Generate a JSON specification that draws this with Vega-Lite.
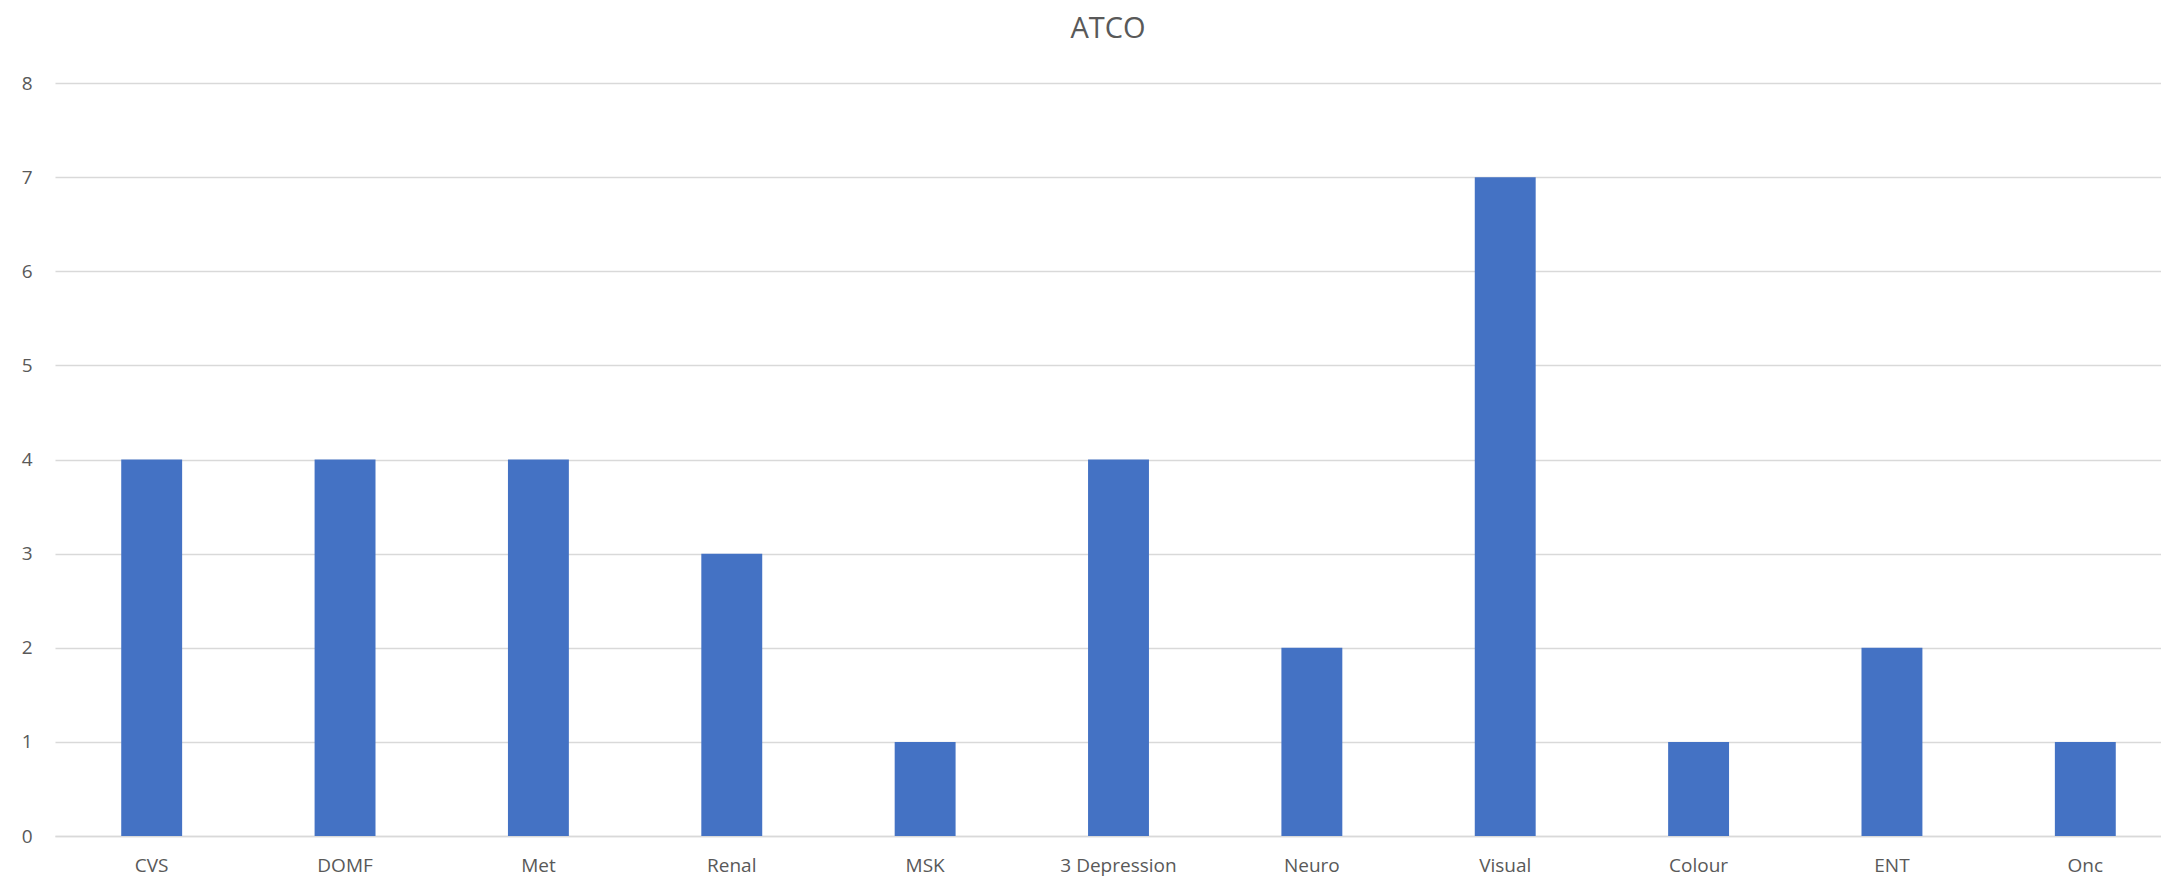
{
  "$schema": "https://vega.github.io/schema/vega-lite/v6.json",
  "autosize": {"type": "none"},
  "width": 2106,
  "height": 753,
  "padding": {"left": 55, "top": 83, "right": 0, "bottom": 42},
  "background": "white",
  "title": {"text": "ATCO", "fontSize": 29, "font": "Open Sans", "fontWeight": "normal", "color": "#595959", "anchor": "middle", "offset": 30},
  "data": {"values": [
    {"category": "CVS", "value": 4},
    {"category": "DOMF", "value": 4},
    {"category": "Met", "value": 4},
    {"category": "Renal", "value": 3},
    {"category": "MSK", "value": 1},
    {"category": "3 Depression", "value": 4},
    {"category": "Neuro", "value": 2},
    {"category": "Visual", "value": 7},
    {"category": "Colour", "value": 1},
    {"category": "ENT", "value": 2},
    {"category": "Onc", "value": 1}
  ]},
  "mark": {"type": "bar", "color": "#4472c4"},
  "encoding": {
    "x": {"field": "category", "type": "nominal", "sort": null,
      "scale": {"range": [0, 2127], "paddingInner": 0.685, "paddingOuter": 0.3425},
      "axis": {"title": null, "labelAngle": 0, "labelFont": "Open Sans", "labelFontSize": 19, "labelColor": "#595959", "ticks": false, "labelPadding": 20, "domainColor": "#d9d9d9", "domainWidth": 1.5, "grid": false}},
    "y": {"field": "value", "type": "quantitative",
      "scale": {"domain": [0, 8], "nice": false},
      "axis": {"title": null, "values": [0,1,2,3,4,5,6,7,8], "domain": false, "ticks": false, "labelFont": "Open Sans", "labelFontSize": 19, "labelColor": "#595959", "labelPadding": 23, "gridColor": "#d9d9d9", "gridWidth": 1.5}}
  },
  "config": {"view": {"stroke": null}}
}
